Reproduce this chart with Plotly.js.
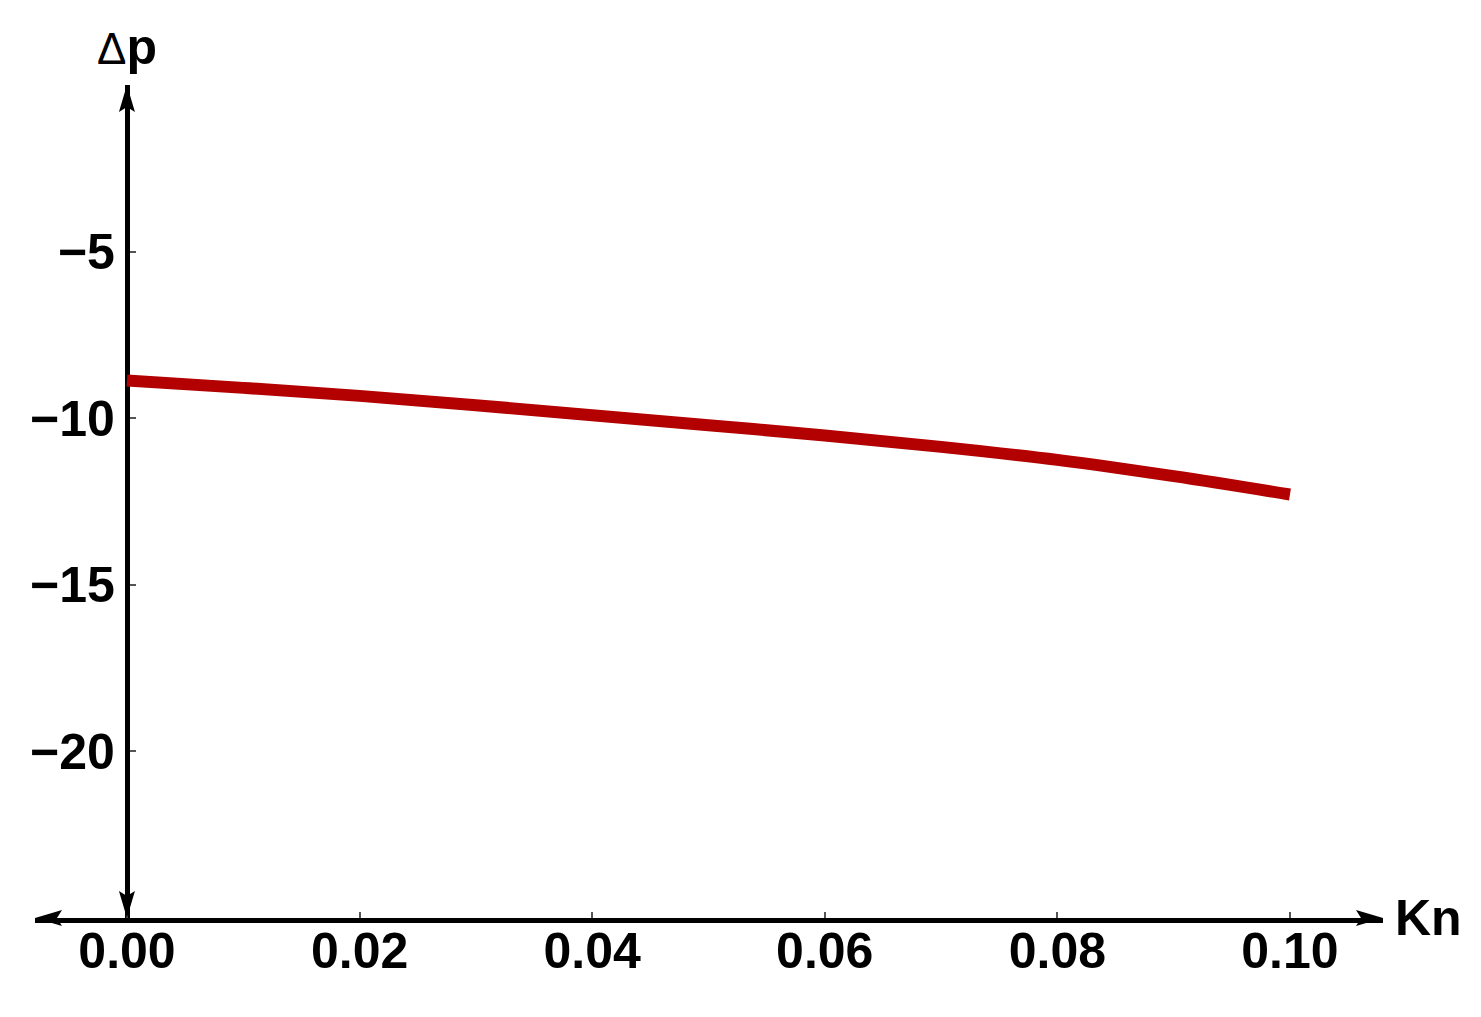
<!DOCTYPE html>
<html>
<head>
<meta charset="utf-8">
<script src="https://cdn.plot.ly/plotly-3.0.1.min.js"></script>
<style>
    html, body { margin: 0; padding: 0; background: #fff; }
</style>
</head>
<body>
<div id="plot" style="width:1481px;height:1017px;"></div>
<script>
// data
let knValues = [0, 0.01, 0.02, 0.03, 0.04, 0.05, 0.06, 0.07, 0.08, 0.09, 0.10];
let deltaP = [-8.87, -9.09, -9.33, -9.61, -9.91, -10.21, -10.52, -10.86, -11.25, -11.74, -12.29];

let xTicks = [0, 0.02, 0.04, 0.06, 0.08, 0.10];
let xTickText = ["0.00", "0.02", "0.04", "0.06", "0.08", "0.10"];
let yTicks = [-5, -10, -15, -20];
let yTickText = ["\u22125", "\u221210", "\u221215", "\u221220"];

// where the vertical axis sits inside the plot area (paper fraction)
let yAxisPos = 0.0682;

let tickFont = { family: "Liberation Sans, Arial, sans-serif", size: 50, color: "#000", weight: "bold" };

let trace = {
    x: knValues,
    y: deltaP,
    type: "scatter",
    mode: "lines",
    line: { color: "#b30000", width: 12, shape: "spline", smoothing: 1 },
    hoverinfo: "skip"
};

// arrowheads drawn as small pixel-sized paths
function arrowHead(xa, ya, path) {
    return {
        type: "path",
        xref: "paper", yref: "paper",
        xsizemode: "pixel", ysizemode: "pixel",
        xanchor: xa, yanchor: ya,
        path: path,
        fillcolor: "#000",
        line: { width: 0 }
    };
}

let layout = {
    width: 1481,
    height: 1017,
    margin: { l: 35, r: 98, t: 85, b: 99 },
    paper_bgcolor: "#fff",
    plot_bgcolor: "#fff",
    showlegend: false,
    xaxis: {
        range: [-0.00791, 0.108],
        tickvals: xTicks,
        ticktext: xTickText,
        tickfont: tickFont,
        ticklabelstandoff: -15,
        showgrid: false,
        zeroline: false,
        showline: true,
        linecolor: "#000",
        linewidth: 5,
        ticks: "inside",
        ticklen: 6,
        tickwidth: 2,
        tickcolor: "#555",
        layer: "below traces"
    },
    yaxis: {
        range: [-25, 0],
        anchor: "free",
        position: yAxisPos,
        tickvals: yTicks,
        ticktext: yTickText,
        tickfont: tickFont,
        showgrid: false,
        zeroline: false,
        showline: true,
        linecolor: "#000",
        linewidth: 5,
        ticks: "inside",
        ticklen: 6,
        tickwidth: 2,
        tickcolor: "#555",
        layer: "below traces"
    },
    shapes: [
        arrowHead(1, 0, "M0,0 L-27,8 L-22,0 L-27,-8 Z"),
        arrowHead(0, 0, "M0,0 L27,8 L22,0 L27,-8 Z"),
        arrowHead(yAxisPos, 1, "M0,0 L-8,-27 L0,-22 L8,-27 Z"),
        arrowHead(yAxisPos, 0, "M0,0 L-8,27 L0,22 L8,27 Z")
    ],
    annotations: [
        {
            xref: "paper", yref: "paper",
            x: yAxisPos, y: 1 + 38 / 833,
            xanchor: "center", yanchor: "middle",
            showarrow: false,
            text: "<span style='font-weight:normal;font-size:44px'>\u0394</span>p",
            font: { family: "Liberation Sans, Arial, sans-serif", size: 50, color: "#000", weight: "bold" }
        },
        {
            xref: "paper", yref: "paper",
            x: 1 + 10 / 1348, y: 0,
            xanchor: "left", yanchor: "middle",
            showarrow: false,
            text: "Kn",
            font: { family: "Liberation Sans, Arial, sans-serif", size: 50, color: "#000", weight: "bold" }
        }
    ]
};

Plotly.newPlot("plot", [trace], layout, { displayModeBar: false, staticPlot: true });
</script>
</body>
</html>
